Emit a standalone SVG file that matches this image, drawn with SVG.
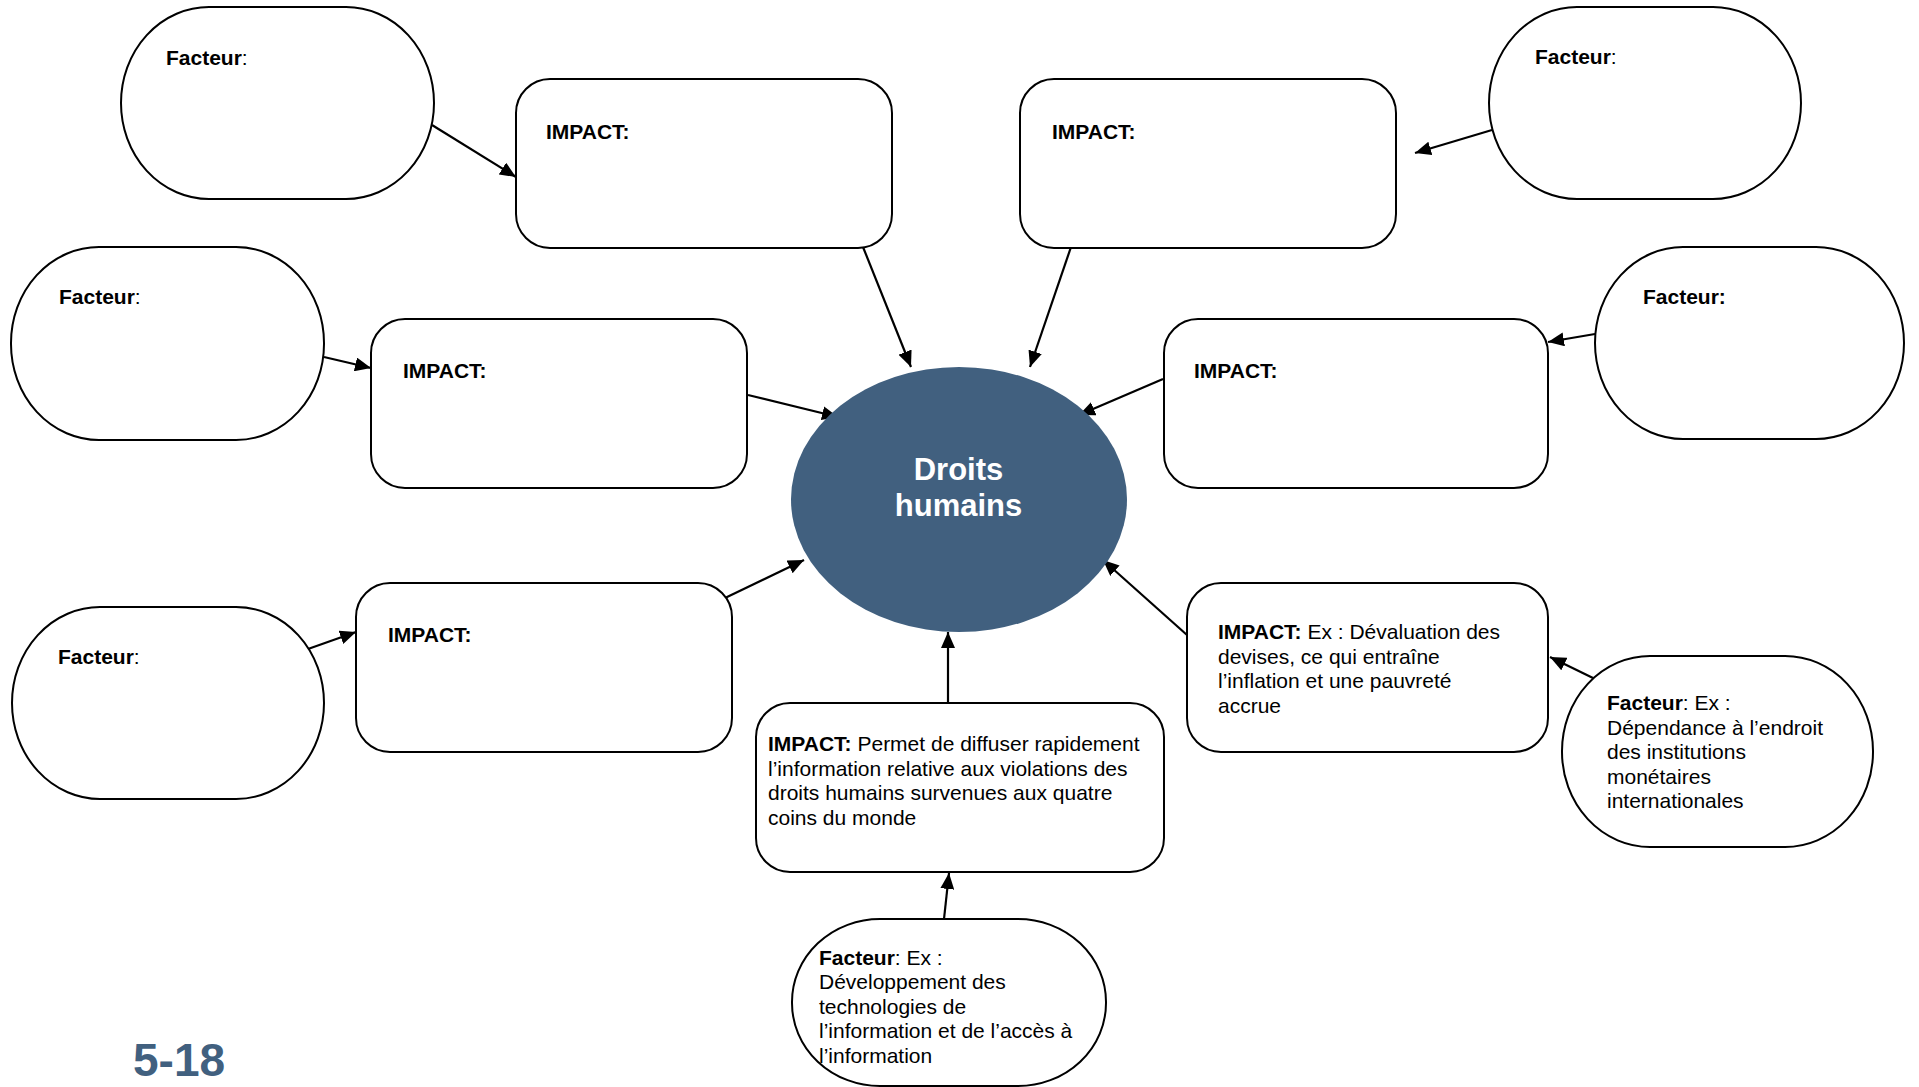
<svg xmlns="http://www.w3.org/2000/svg" width="1919" height="1087" viewBox="0 0 1919 1087">
<style>
.fac{fill:#fff;stroke:#000;stroke-width:2}
.imp{fill:#fff;stroke:#000;stroke-width:2}
.t{font-family:"Liberation Sans",Arial,sans-serif;font-size:21px;fill:#000}
.b{font-weight:bold}
.con{stroke:#000;stroke-width:2.2;fill:none;marker-end:url(#ah)}
.center{font-family:"Liberation Sans",Arial,sans-serif;font-size:31px;font-weight:bold;fill:#fff;text-anchor:middle}
</style>
<defs>
<marker id="ah" markerUnits="userSpaceOnUse" markerWidth="17" markerHeight="14" refX="16" refY="7" orient="auto">
<path d="M0,0 L16,7 L0,14 Z" fill="#000"/>
</marker>
</defs>
<rect width="1919" height="1087" fill="#fff"/>

<g id="connectors">
<line class="con" x1="432" y1="125" x2="516" y2="177"/>
<line class="con" x1="863" y1="247" x2="911" y2="367"/>
<line class="con" x1="1492" y1="130" x2="1415" y2="153"/>
<line class="con" x1="1071" y1="247" x2="1030" y2="367"/>
<line class="con" x1="324" y1="357" x2="371" y2="368"/>
<line class="con" x1="748" y1="395" x2="838" y2="417"/>
<line class="con" x1="1595" y1="334" x2="1548" y2="342"/>
<line class="con" x1="1163" y1="379" x2="1079" y2="415"/>
<line class="con" x1="308" y1="649" x2="356" y2="632"/>
<line class="con" x1="725" y1="598" x2="804" y2="560"/>
<line class="con" x1="948" y1="703" x2="948" y2="632"/>
<line class="con" x1="1187" y1="635" x2="1103" y2="560"/>
<line class="con" x1="1593" y1="678" x2="1550" y2="657"/>
<line class="con" x1="944" y1="919" x2="949" y2="873"/>
</g>

<g id="center">
<ellipse cx="959" cy="499.5" rx="168" ry="132.5" fill="#41607f"/>
<text class="center" x="958.5" y="480">Droits</text>
<text class="center" x="958.5" y="516">humains</text>
</g>

<g id="facteur1">
<rect class="fac" x="121" y="7" width="313" height="192" rx="88" ry="96"/>
<text class="t" x="166" y="65"><tspan class="b">Facteur</tspan>:</text>
</g>
<g id="facteur2">
<rect class="fac" x="1489" y="7" width="312" height="192" rx="88" ry="96"/>
<text class="t" x="1535" y="64"><tspan class="b">Facteur</tspan>:</text>
</g>
<g id="facteur3">
<rect class="fac" x="11" y="247" width="313" height="193" rx="88" ry="96"/>
<text class="t" x="59" y="304"><tspan class="b">Facteur</tspan>:</text>
</g>
<g id="facteur4">
<rect class="fac" x="1595" y="247" width="309" height="192" rx="88" ry="96"/>
<text class="t b" x="1643" y="304">Facteur:</text>
</g>
<g id="facteur5">
<rect class="fac" x="12" y="607" width="312" height="192" rx="88" ry="96"/>
<text class="t" x="58" y="664"><tspan class="b">Facteur</tspan>:</text>
</g>
<g id="facteur6">
<rect class="fac" x="1562" y="656" width="311" height="191" rx="88" ry="95"/>
<text class="t" x="1607" y="710"><tspan class="b">Facteur</tspan>: Ex :</text>
<text class="t" x="1607" y="734.5">Dépendance à l’endroit</text>
<text class="t" x="1607" y="759">des institutions</text>
<text class="t" x="1607" y="783.5">monétaires</text>
<text class="t" x="1607" y="808">internationales</text>
</g>
<g id="facteur7">
<rect class="fac" x="792" y="919" width="314" height="167" rx="88" ry="83"/>
<text class="t" x="819" y="964.5"><tspan class="b">Facteur</tspan>: Ex :</text>
<text class="t" x="819" y="989">Développement des</text>
<text class="t" x="819" y="1013.5">technologies de</text>
<text class="t" x="819" y="1038">l’information et de l’accès à</text>
<text class="t" x="819" y="1062.5">l’information</text>
</g>

<g id="impact1">
<rect class="imp" x="516" y="79" width="376" height="169" rx="34" ry="34"/>
<text class="t b" x="546" y="139">IMPACT:</text>
</g>
<g id="impact2">
<rect class="imp" x="1020" y="79" width="376" height="169" rx="34" ry="34"/>
<text class="t b" x="1052" y="139">IMPACT:</text>
</g>
<g id="impact3">
<rect class="imp" x="371" y="319" width="376" height="169" rx="34" ry="34"/>
<text class="t b" x="403" y="378">IMPACT:</text>
</g>
<g id="impact4">
<rect class="imp" x="1164" y="319" width="384" height="169" rx="34" ry="34"/>
<text class="t b" x="1194" y="378">IMPACT:</text>
</g>
<g id="impact5">
<rect class="imp" x="356" y="583" width="376" height="169" rx="34" ry="34"/>
<text class="t b" x="388" y="642">IMPACT:</text>
</g>
<g id="impact6">
<rect class="imp" x="1187" y="583" width="361" height="169" rx="34" ry="34"/>
<text class="t" x="1218" y="639"><tspan class="b">IMPACT:</tspan> Ex : Dévaluation des</text>
<text class="t" x="1218" y="663.7">devises, ce qui entraîne</text>
<text class="t" x="1218" y="688.3">l’inflation et une pauvreté</text>
<text class="t" x="1218" y="713">accrue</text>
</g>
<g id="impact7">
<rect class="imp" x="756" y="703" width="408" height="169" rx="34" ry="34"/>
<text class="t" x="768" y="751"><tspan class="b">IMPACT:</tspan> Permet de diffuser rapidement</text>
<text class="t" x="768" y="775.7">l’information relative aux violations des</text>
<text class="t" x="768" y="800.3">droits humains survenues aux quatre</text>
<text class="t" x="768" y="825">coins du monde</text>
</g>

<text x="133" y="1076" font-family="'Liberation Sans',Arial,sans-serif" font-size="46" font-weight="bold" fill="#41607f">5-18</text>
</svg>
